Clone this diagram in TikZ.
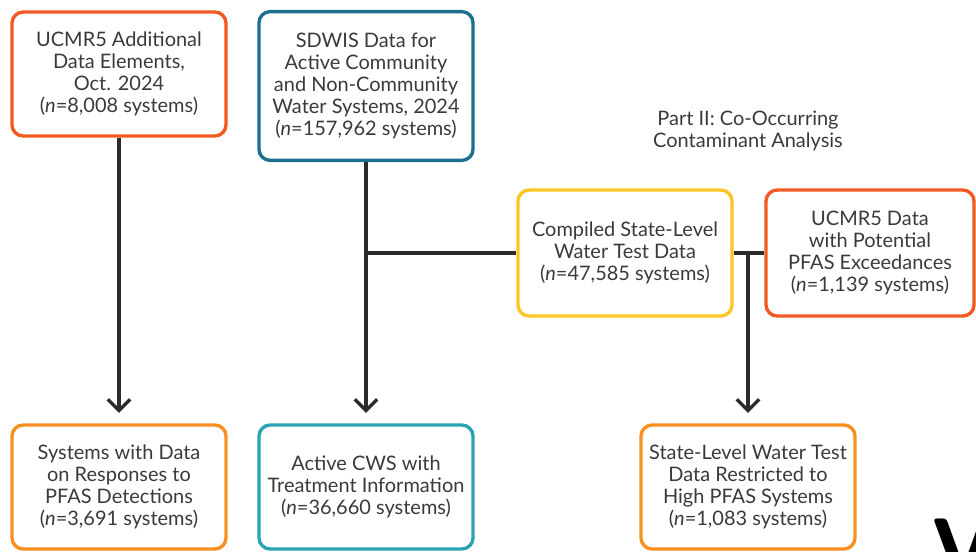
\documentclass[tikz,border=0pt]{standalone}
\usepackage{fontspec}
\setmainfont{Lato}
\usetikzlibrary{arrows.meta}
\definecolor{redorange}{HTML}{F15A22}
\definecolor{darkteal}{HTML}{1C6F8E}
\definecolor{sunyellow}{HTML}{FFC425}
\definecolor{lightorange}{HTML}{F7901E}
\definecolor{lightteal}{HTML}{2AA4B2}
\definecolor{textgray}{HTML}{3A3A3A}
\definecolor{linegray}{HTML}{2B2B2B}
\tikzset{box/.style={draw, line width=2.4pt, rounded corners=8pt, align=center, text=textgray,
    font=\fontsize{14.2}{15.8}\selectfont, minimum width=5.35cm, minimum height=3.1cm, inner sep=0pt}}
\tikzset{flow/.style={draw=linegray, line width=2.6pt}}
\tikzset{flowarrow/.style={flow, -{Straight Barb[length=2.8mm,width=5.6mm,line width=2.4pt]}, shorten >=2.6mm}}

\begin{document}
\begin{tikzpicture}[x=0.025cm, y=-0.025cm]
\useasboundingbox (0,0) rectangle (976,552);
% top row
\node[box, draw=redorange] (ucmrextra) at (119,74) {UCMR5 Additional\\Data Elements,\\Oct. 2024\\(\textit{n}=8,008 systems)};
\node[box, draw=darkteal, minimum height=3.72cm] (sdwis) at (366,86) {SDWIS Data for\\Active Community\\and Non-Community\\Water Systems, 2024\\(\textit{n}=157,962 systems)};
\node[box, draw=sunyellow, minimum height=3.15cm] (statedata) at (625,253) {Compiled State-Level\\Water Test Data\\(\textit{n}=47,585 systems)};
\node[box, draw=redorange, minimum width=5.2cm, minimum height=3.15cm] (ucmrexceed) at (870,253) {UCMR5 Data\\with Potential\\PFAS Exceedances\\(\textit{n}=1,139 systems)};
\node[text=textgray, align=center, font=\fontsize{14.2}{15.8}\selectfont] (part2) at (748,131) {Part II: Co-Occurring\\Contaminant Analysis};
% bottom row
\node[box, draw=lightorange] (responses) at (119,487) {Systems with Data\\on Responses to\\PFAS Detections\\(\textit{n}=3,691 systems)};
\node[box, draw=lightteal] (treatment) at (366,487) {Active CWS with\\Treatment Information\\(\textit{n}=36,660 systems)};
\node[box, draw=lightorange] (highpfas) at (748,487) {State-Level Water Test\\Data Restricted to\\High PFAS Systems\\(\textit{n}=1,083 systems)};
\node[font=\sffamily\bfseries\fontsize{60}{60}\selectfont, anchor=north west, inner sep=0pt] (cutv) at (932,519) {V};
% connectors
\coordinate (joinleft) at (sdwis.south |- statedata.west);
\coordinate (joinright) at (highpfas.north |- statedata.east);
\draw[flowarrow] (ucmrextra.south) -- (responses.north);
\draw[flowarrow] (sdwis.south) -- (treatment.north);
\draw[flow] (joinleft) -- (statedata.west);
\draw[flow] (statedata.east) -- (ucmrexceed.west);
\draw[flowarrow] (joinright) -- (highpfas.north);
\end{tikzpicture}
\end{document}
